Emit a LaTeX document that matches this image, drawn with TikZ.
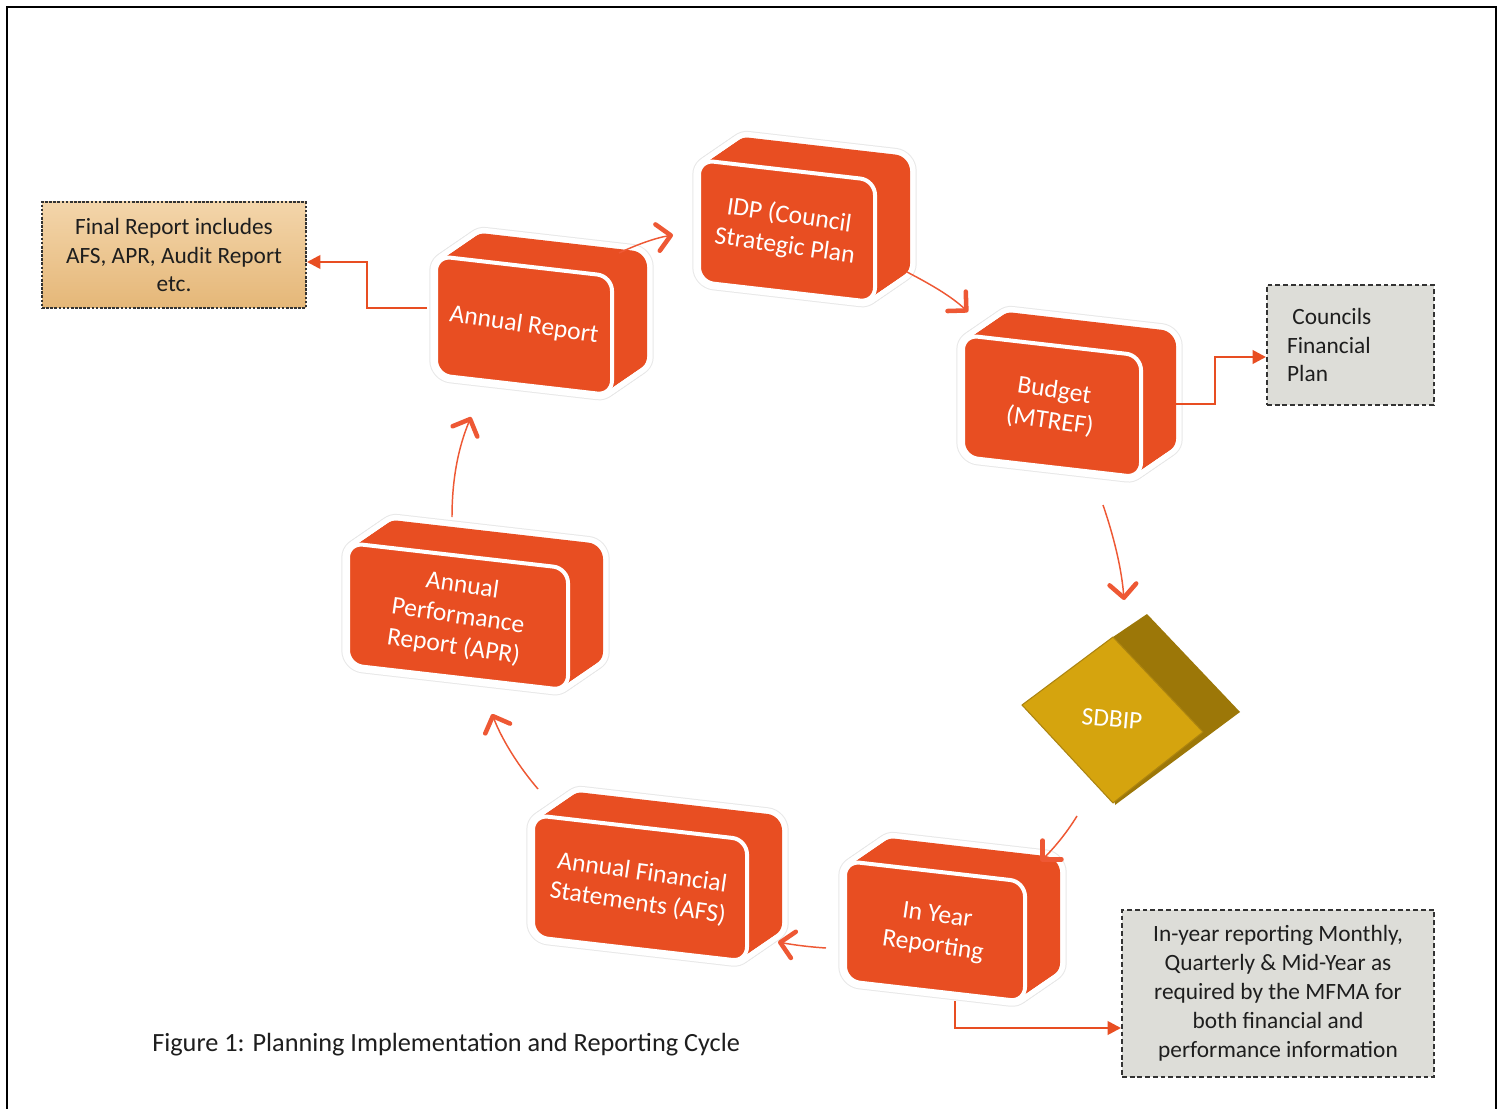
\documentclass[tikz,border=0pt]{standalone}
\usepackage{fontspec}
\setmainfont{Carlito}
\usetikzlibrary{arrows.meta}
\definecolor{org}{RGB}{232,78,34}
\definecolor{orgline}{RGB}{238,88,52}
\definecolor{sfront}{RGB}{213,164,14}
\definecolor{sdark}{RGB}{156,119,8}
\definecolor{sedge}{RGB}{172,132,16}
\definecolor{boxgray}{RGB}{221,221,216}
\definecolor{ftop}{RGB}{243,213,170}
\definecolor{fbot}{RGB}{229,183,120}
\definecolor{txt}{RGB}{30,30,30}
\tikzset{
  blocktext/.style={text=white,font=\fontsize{19.2}{23}\selectfont,align=center,rotate=-8.2,inner sep=0pt},
  infobox/.style={draw=black!80,line width=0.8pt,text=txt,
     font=\fontsize{17.5}{21.7}\selectfont,inner sep=0pt},
  ringarrow/.style={draw=orgline,line width=1.1pt,
     -{Straight Barb[length=10pt,width=20pt,line width=3.4pt,round]}},
  elbowarrow/.style={draw=org,line width=2pt,-{Triangle[length=10pt,width=10pt]}},
}
\newcommand\cbdraw[5]{\path[#1] (#2,#3) -- ({#2+#4},{#3+0.115*#4}) -- ({#2+#4},{#3+0.115*#4+#5}) -- (#2,{#3+#5}) -- cycle;}
\newcommand\cubeblock[6]{%
  \foreach \i in {0,...,20}{\begin{scope}[shift={({35*\i/20},{-24*\i/20})}]\cbdraw{draw=black!9,line width=10pt,rounded corners=11pt}{#2}{#3}{#4}{#5}\end{scope}}
  \foreach \i in {0,...,20}{\begin{scope}[shift={({35*\i/20},{-24*\i/20})}]\cbdraw{draw=white,line width=8.5pt,rounded corners=11pt}{#2}{#3}{#4}{#5}\end{scope}}
  \foreach \i in {0,...,20}{\begin{scope}[shift={({35*\i/20},{-24*\i/20})}]\cbdraw{fill=org,rounded corners=11pt}{#2}{#3}{#4}{#5}\end{scope}}
  \cbdraw{fill=org,draw=white,line width=3pt,rounded corners=11pt}{#2}{#3}{#4}{#5}
  \node[blocktext] (#1) at ({#2+#4/2},{#3+0.0575*#4+#5/2}) {#6};
}
\begin{document}
\begin{tikzpicture}[x=0.75pt,y=-0.75pt]
\useasboundingbox (0,0) rectangle (1503,1109);
\fill[white] (0,0) rectangle (1503,1109);
% frame
\draw[line width=1.5pt] (7,1109) -- (7,7) -- (1496,7) -- (1496,1109);

% blocks
\cubeblock{idp}{699}{160}{176}{122}{IDP (Council\\Strategic Plan}
\cubeblock{bud}{963}{335}{178}{122}{Budget\\(MTREF)}
\cubeblock{ar}{436}{256}{176}{119}{Annual Report}
\cubeblock{apr}{348}{543}{220}{122}{Annual\\Performance\\Report (APR)}
\cubeblock{afs}{533}{815}{214}{122}{Annual Financial\\Statements (AFS)}
\cubeblock{iyr}{845}{861}{180}{120}{In Year\\Reporting}

% SDBIP
\fill[sdark] (1113,637) -- (1147,614) -- (1240,712) -- (1115,805) -- cycle;
\draw[fill=sfront,draw=sedge,line width=0.8pt,line join=round] (1022,705) -- (1113,637) -- (1203,732) -- (1113,803) -- cycle;
\node[text=white,font=\fontsize{19}{21}\selectfont,rotate=-5,inner sep=0pt] (sdbip) at (1112,719) {SDBIP};

% info boxes
\node[infobox,dash pattern=on 2pt off 1.1pt,top color=ftop,bottom color=fbot,minimum width=198pt,minimum height=79.5pt,align=center] (fr) at (174,255)
  {Final Report includes\\AFS, APR, Audit Report\\etc.};
\node[infobox,dash pattern=on 3.6pt off 2.2pt,fill=boxgray,minimum width=125.25pt,minimum height=90pt,text width=95pt,align=left] (cf) at (1350.5,345)
  {\hspace{0.22em}Councils\\Financial\\Plan};
\node[infobox,dash pattern=on 3.6pt off 2.2pt,fill=boxgray,minimum width=234pt,minimum height=125.25pt,align=center] (iy) at (1278,993.5)
  {In-year reporting Monthly,\\Quarterly \& Mid-Year as\\required by the MFMA for\\both financial and\\performance information};

% caption
\node[anchor=west,text=txt,font=\fontsize{19.7}{23}\selectfont,inner sep=0pt] (cap) at (152,1045)
  {Figure 1: Planning Implementation and Reporting Cycle};

% connector end points
\coordinate (arL) at (427,308);
\coordinate (frE) at (307,262);
\coordinate (buR) at (1176,404);
\coordinate (cfW) at (1266,357);
\coordinate (iyB) at (955,1001);
\coordinate (iyW) at (1121,1028);
\coordinate (arOut) at (619,253);
\coordinate (idpIn) at (673,235);
\coordinate (idpOut) at (907,272);
\coordinate (budIn) at (968,312);
\coordinate (budOut) at (1103,505);
\coordinate (sdIn) at (1124,600);
\coordinate (sdOut) at (1077,816);
\coordinate (iyrIn) at (1041,861);
\coordinate (iyrOut) at (826,948);
\coordinate (afsIn) at (778,942);
\coordinate (afsOut) at (538,789);
\coordinate (aprIn) at (492,714);
\coordinate (aprOut) at (452,517);
\coordinate (arIn) at (471,417);

% elbow connectors
\draw[elbowarrow] (arL) -- ++(-60,0) |- (frE);
\draw[elbowarrow] (buR) -- ++(39,0) |- (cfW);
\draw[elbowarrow] (iyB) |- (iyW);

% ring arrows
\draw[ringarrow] (arOut) .. controls (636,245) and (655,238) .. (idpIn);
\draw[ringarrow] (idpOut) .. controls (930,284) and (951,296) .. (budIn);
\draw[ringarrow] (budOut) .. controls (1115,540) and (1122,572) .. (sdIn);
\draw[ringarrow] (sdOut) .. controls (1066,834) and (1053,849) .. (iyrIn);
\draw[ringarrow] (iyrOut) .. controls (810,947) and (794,945) .. (afsIn);
\draw[ringarrow] (afsOut) .. controls (520,768) and (503,742) .. (aprIn);
\draw[ringarrow] (aprOut) .. controls (452,480) and (458,448) .. (arIn);
\end{tikzpicture}
\end{document}
